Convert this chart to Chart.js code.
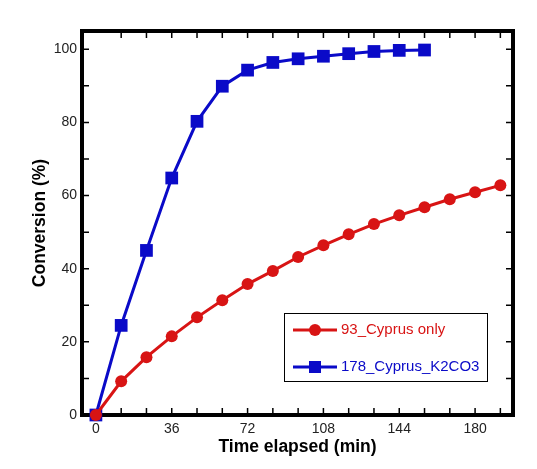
<!DOCTYPE html>
<html>
<head>
<meta charset="utf-8">
<script src="https://cdn.jsdelivr.net/npm/chart.js@4"></script>
<style>
  html, body { margin: 0; padding: 0; background: #fff; }
  #wrap { width: 537px; height: 469px; }
</style>
</head>
<body>
<div id="wrap"><canvas id="grafico"></canvas></div>
<script>
// data
var tempoCyprus = [0, 12, 24, 36, 48, 60, 72, 84, 96, 108, 120, 132, 144, 156, 168, 180, 192];
var convCyprus = [0, 9.2, 15.8, 21.5, 26.7, 31.4, 35.8, 39.4, 43.2, 46.4, 49.4, 52.2, 54.6, 56.8, 59.0, 60.9, 62.8];

var tempoK2CO3 = [0, 12, 24, 36, 48, 60, 72, 84, 96, 108, 120, 132, 144, 156];
var convK2CO3 = [0, 24.5, 45.0, 64.8, 80.3, 89.9, 94.3, 96.4, 97.4, 98.1, 98.8, 99.4, 99.7, 99.8];

var xLabels = [0, 36, 72, 108, 144, 180];
var yLabels = [0, 20, 40, 60, 80, 100];
var xMinor = [12, 24, 36, 48, 60, 72, 84, 96, 108, 120, 132, 144, 156, 168, 180, 192];
var yMinor = [10, 20, 30, 40, 50, 60, 70, 80, 90, 100];

var vermelho = '#d81414';
var azul = '#0a0ac8';
var fonte = '"Liberation Sans", Arial, sans-serif';

function pontos(xs, ys) {
    return xs.map(function (x, i) { return { x: x, y: ys[i] }; });
}

// frame with inward ticks, drawn under the lines
var moldura = {
    id: 'moldura',
    beforeDatasetsDraw: function (chart) {
        var ctx = chart.ctx, a = chart.chartArea;
        var sx = chart.scales.x, sy = chart.scales.y;
        ctx.save();
        ctx.strokeStyle = '#000';
        ctx.lineWidth = 1.5;
        ctx.beginPath();
        xMinor.forEach(function (v) {
            var px = sx.getPixelForValue(v);
            ctx.moveTo(px, a.bottom); ctx.lineTo(px, a.bottom - 7);
            ctx.moveTo(px, a.top); ctx.lineTo(px, a.top + 7);
        });
        yMinor.forEach(function (v) {
            var py = sy.getPixelForValue(v);
            ctx.moveTo(a.left, py); ctx.lineTo(a.left + 7, py);
            ctx.moveTo(a.right, py); ctx.lineTo(a.right - 7, py);
        });
        ctx.stroke();
        ctx.lineWidth = 4;
        ctx.strokeRect(a.left, a.top, a.right - a.left, a.bottom - a.top);
        ctx.restore();
    },
    afterDraw: function (chart) {
        // legend box inside the plot
        var ctx = chart.ctx;
        var bx = 284, by = 313, bw = 203, bh = 68;
        ctx.save();
        ctx.fillStyle = '#fff';
        ctx.fillRect(bx, by, bw, bh);
        ctx.strokeStyle = '#000';
        ctx.lineWidth = 1;
        ctx.strokeRect(bx + 0.5, by + 0.5, bw, bh);
        var linhas = [
            { txt: '93_Cyprus only', cor: vermelho, forma: 'circle', y: 330 },
            { txt: '178_Cyprus_K2CO3', cor: azul, forma: 'rect', y: 367 }
        ];
        ctx.font = '15px ' + fonte;
        ctx.textBaseline = 'middle';
        linhas.forEach(function (l) {
            ctx.strokeStyle = l.cor;
            ctx.lineWidth = 3;
            ctx.beginPath();
            ctx.moveTo(293, l.y); ctx.lineTo(337, l.y);
            ctx.stroke();
            ctx.fillStyle = l.cor;
            if (l.forma === 'circle') {
                ctx.beginPath();
                ctx.arc(315, l.y, 6, 0, Math.PI * 2);
                ctx.fill();
            } else {
                ctx.fillRect(309, l.y - 6, 12, 12);
            }
            ctx.fillText(l.txt, 341, l.y);
        });
        ctx.restore();
    }
};

var ctx = document.getElementById('grafico').getContext('2d');
var grafico = new Chart(ctx, {
    type: 'line',
    data: {
        datasets: [
            {
                label: '93_Cyprus only',
                data: pontos(tempoCyprus, convCyprus),
                borderColor: vermelho,
                backgroundColor: vermelho,
                borderWidth: 3,
                pointStyle: 'circle',
                pointRadius: 6,
                pointBorderWidth: 0,
                clip: false
            },
            {
                label: '178_Cyprus_K2CO3',
                data: pontos(tempoK2CO3, convK2CO3),
                borderColor: azul,
                backgroundColor: azul,
                borderWidth: 3,
                pointStyle: 'rect',
                pointRadius: 9,
                pointBorderWidth: 0,
                clip: false
            }
        ]
    },
    plugins: [moldura],
    options: {
        responsive: true,
        maintainAspectRatio: false,
        animation: false,
        layout: { padding: { top: 31, right: 24, left: 0, bottom: 0 } },
        plugins: {
            legend: { display: false },
            tooltip: { enabled: false }
        },
        scales: {
            x: {
                type: 'linear',
                min: -6.6,
                max: 198,
                afterBuildTicks: function (s) {
                    s.ticks = xLabels.map(function (v) { return { value: v }; });
                },
                afterFit: function (s) { s.height = 54; },
                grid: { display: false, drawTicks: false },
                border: { display: false },
                ticks: {
                    padding: 6,
                    maxRotation: 0,
                    color: '#222',
                    font: { family: fonte, size: 14 }
                },
                title: {
                    display: true,
                    text: 'Time elapsed (min)',
                    color: '#000',
                    padding: { top: 0, bottom: 11 },
                    font: { family: fonte, size: 17.5, weight: 'bold' }
                }
            },
            y: {
                min: 0,
                max: 105,
                afterBuildTicks: function (s) {
                    s.ticks = yLabels.map(function (v) { return { value: v }; });
                },
                afterFit: function (s) { s.width = 82; },
                grid: { display: false, drawTicks: false },
                border: { display: false },
                ticks: {
                    padding: 5,
                    color: '#222',
                    font: { family: fonte, size: 14 }
                },
                title: {
                    display: true,
                    text: 'Conversion (%)',
                    color: '#000',
                    padding: { top: 30, bottom: 0 },
                    font: { family: fonte, size: 17.5, weight: 'bold' }
                }
            }
        }
    }
});
</script>
</body>
</html>
